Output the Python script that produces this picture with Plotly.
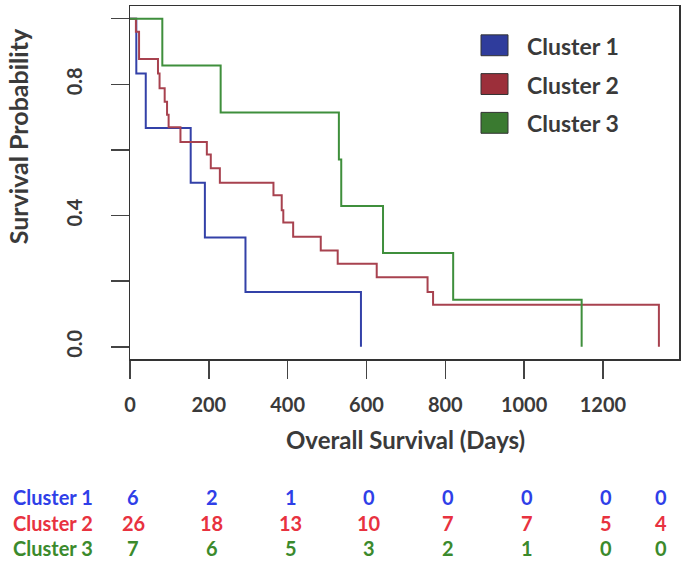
import plotly.graph_objects as go

# ---------------- data ----------------
cluster_names = ["Cluster 1", "Cluster 2", "Cluster 3"]

c1_days = [0, 16, 40, 154, 190, 293, 586]
c1_surv = [1.0, 0.833, 0.667, 0.5, 0.333, 0.167, 0.0]

c2_days = [0, 15, 23, 71, 75, 88, 94, 98, 128, 195, 205, 228, 364, 385, 389,
           414, 484, 527, 626, 755, 769, 1342]
c2_surv = [1.0, 0.96, 0.877, 0.833, 0.788, 0.747, 0.707, 0.669, 0.624, 0.586,
           0.544, 0.5, 0.462, 0.416, 0.379, 0.335, 0.293, 0.253, 0.212, 0.167,
           0.128, 0.0]

c3_days = [0, 82, 230, 530, 536, 642, 820, 1146]
c3_surv = [1.0, 0.857, 0.714, 0.571, 0.429, 0.286, 0.143, 0.0]

risk_days = [0, 200, 400, 600, 800, 1000, 1200, 1340]
risk_c1 = [6, 2, 1, 0, 0, 0, 0, 0]
risk_c2 = [26, 18, 13, 10, 7, 7, 5, 4]
risk_c3 = [7, 6, 5, 3, 2, 1, 0, 0]

x_ticks = [0, 200, 400, 600, 800, 1000, 1200]
y_ticks = [0.0, 0.2, 0.4, 0.6, 0.8, 1.0]
y_ticktext = ["0.0", "", "0.4", "", "0.8", ""]

# ---------------- styles ----------------
line_colors = ["#3341a8", "#a8424f", "#3f8f3c"]
fill_colors = ["#2f3c9c", "#9c2f3a", "#3a7a30"]
text_colors = ["#2f3fe8", "#e8323f", "#3b8a2c"]
FONT = "Lato"
DARK = "#3a3a3a"

fig = go.Figure()
for name, d, s, col in zip(cluster_names, [c1_days, c2_days, c3_days],
                           [c1_surv, c2_surv, c3_surv], line_colors):
    fig.add_trace(go.Scatter(x=d, y=s, mode="lines", name=name,
                             line=dict(color=col, width=2, shape="hv"),
                             showlegend=False, hoverinfo="skip"))

# plot area in px: x 130..679, y 4..359
L, R, T, B = 130, 6, 4, 202
W, H = 685, 561
pw, ph = W - L - R, H - T - B

def px_x(p):
    return (p - L) / pw

def px_y(p):
    return (T + ph - p) / ph

shapes = []
annotations = []

# legend (boxes + labels)
box_tops = [33, 72, 111]
for i, name in enumerate(cluster_names):
    shapes.append(dict(type="rect", xref="paper", yref="paper",
                       x0=px_x(481), x1=px_x(508),
                       y0=px_y(box_tops[i] + 21), y1=px_y(box_tops[i]),
                       fillcolor=fill_colors[i],
                       line=dict(color="#333333", width=1)))
    annotations.append(dict(text=name, xref="paper", yref="paper",
                            x=px_x(525), y=px_y(box_tops[i] + 11),
                            xanchor="left", yanchor="middle", showarrow=False,
                            font=dict(family=FONT, size=23, color=DARK, weight="bold")))

# axis titles
annotations.append(dict(text="Overall Survival (Days)", xref="paper", yref="paper",
                        x=px_x(405), y=px_y(440), xanchor="center", yanchor="middle",
                        showarrow=False,
                        font=dict(family=FONT, size=24, color=DARK, weight="bold")))
annotations.append(dict(text="Survival Probability", xref="paper", yref="paper",
                        x=px_x(18), y=px_y(135), xanchor="center", yanchor="middle",
                        textangle=-90, showarrow=False,
                        font=dict(family=FONT, size=25, color=DARK, weight="bold")))

# number-at-risk table
row_y = [498, 524, 549]
for i, (name, counts) in enumerate(zip(cluster_names, [risk_c1, risk_c2, risk_c3])):
    annotations.append(dict(text=name, xref="paper", yref="paper",
                            x=px_x(11), y=px_y(row_y[i]), xanchor="left",
                            yanchor="middle", showarrow=False,
                            font=dict(family=FONT, size=20, color=text_colors[i], weight="bold")))
    for d, c in zip(risk_days, counts):
        annotations.append(dict(text=str(c), xref="x", yref="paper",
                                x=d, y=px_y(row_y[i]), xanchor="center",
                                yanchor="middle", showarrow=False, xshift=3,
                                font=dict(family=FONT, size=20, color=text_colors[i], weight="bold")))

axis_common = dict(showline=True, mirror=True, linecolor="#333333", linewidth=1.5,
                   showgrid=False, zeroline=False, ticks="outside", ticklen=18,
                   tickwidth=1.5, tickcolor="#444444",
                   tickfont=dict(family=FONT, size=20, color=DARK, weight="bold"))

fig.update_layout(
    width=W, height=H,
    margin=dict(l=L, r=R, t=T, b=B, pad=0),
    plot_bgcolor="white", paper_bgcolor="white",
    xaxis=dict(range=[0, 1393], tickvals=x_ticks, ticklabelstandoff=9, **axis_common),
    yaxis=dict(range=[-0.0373, 1.0385], tickvals=y_ticks, ticktext=y_ticktext,
               tickangle=-90, ticklabelstandoff=21, **axis_common),
    shapes=shapes, annotations=annotations,
)

fig.write_html("out.html", config={"displayModeBar": False, "staticPlot": True},
               post_script="document.body.style.margin='0';document.body.style.overflow='hidden';")
